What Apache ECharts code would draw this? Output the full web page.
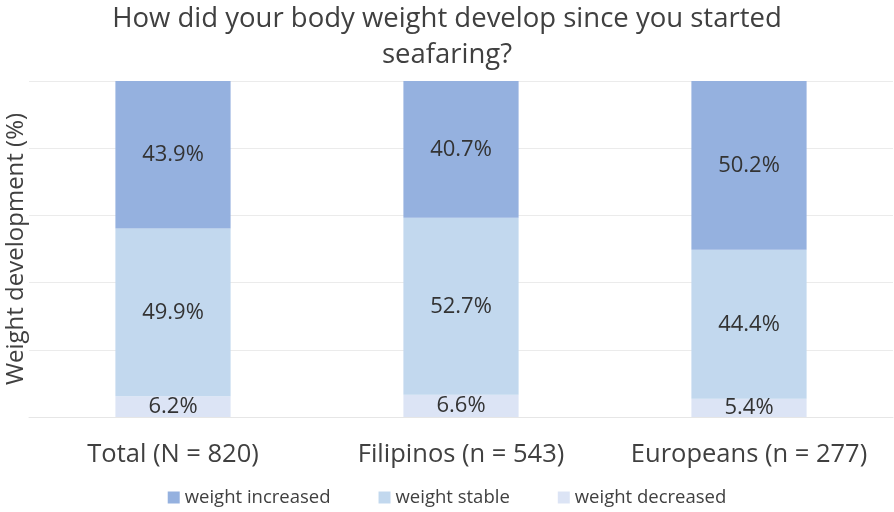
<!DOCTYPE html>
<html><head><meta charset="utf-8">
<script src="https://cdn.jsdelivr.net/npm/echarts@6/dist/echarts.min.js"></script>
<style>html,body{margin:0;padding:0;background:#fff}#c{width:894px;height:512px}</style>
</head><body><div id="c"></div>
<script>
const categories = ['Total (N = 820)', 'Filipinos (n = 543)', 'Europeans (n = 277)'];
const weightDecreased = [6.2, 6.6, 5.4];
const weightStable = [49.9, 52.7, 44.4];
const weightIncreased = [43.9, 40.7, 50.2];
const seriesNames = ['weight increased', 'weight stable', 'weight decreased'];
const colors = { inc: '#95B1DF', stable: '#C2D8EE', dec: '#DCE4F5' };
const font = '"Open Sans", "Liberation Sans", sans-serif';

const lbl = {show: true, position: 'inside', color: '#333', fontSize: 22, fontFamily: font, formatter: p => p.value.toFixed(1) + '%'};
const chart = echarts.init(document.getElementById('c'));
chart.setOption({
  animation: false,
  title: {
    text: 'How did your body weight develop since you started\nseafaring?',
    left: 'center', top: -4,
    textStyle: {fontFamily: font, fontSize: 27.5, fontWeight: 'normal', color: '#404040', lineHeight: 36}
  },
  legend: {
    bottom: 0, left: 'center', itemWidth: 12, itemHeight: 12, itemGap: 48,
    icon: 'rect',
    textStyle: {fontFamily: font, fontSize: 18.5, color: '#404040'},
    data: seriesNames
  },
  grid: {left: 29, right: 1, top: 81, bottom: 95, containLabel: false, outerBoundsMode: 'none'},
  xAxis: {
    type: 'category', data: categories,
    axisLine: {lineStyle: {color: '#E6E6E6'}}, axisTick: {show: false},
    axisLabel: {fontFamily: font, fontSize: 25.5, color: '#404040', margin: 25, interval: 0}
  },
  yAxis: {
    type: 'value', min: 0, max: 100, interval: 20,
    name: 'Weight development (%)', nameLocation: 'middle', nameGap: 1,
    nameTextStyle: {fontFamily: font, fontSize: 24, color: '#404040'},
    axisLabel: {show: false}, axisLine: {show: false}, axisTick: {show: false},
    splitLine: {lineStyle: {color: '#EBEBEB'}}
  },
  series: [
    {name: 'weight decreased', type: 'bar', stack: 's', data: weightDecreased, barWidth: '40%', itemStyle: {color: colors.dec}, label: lbl},
    {name: 'weight stable', type: 'bar', stack: 's', data: weightStable, itemStyle: {color: colors.stable}, label: lbl},
    {name: 'weight increased', type: 'bar', stack: 's', data: weightIncreased, itemStyle: {color: colors.inc}, label: lbl}
  ]
});
</script></body></html>
